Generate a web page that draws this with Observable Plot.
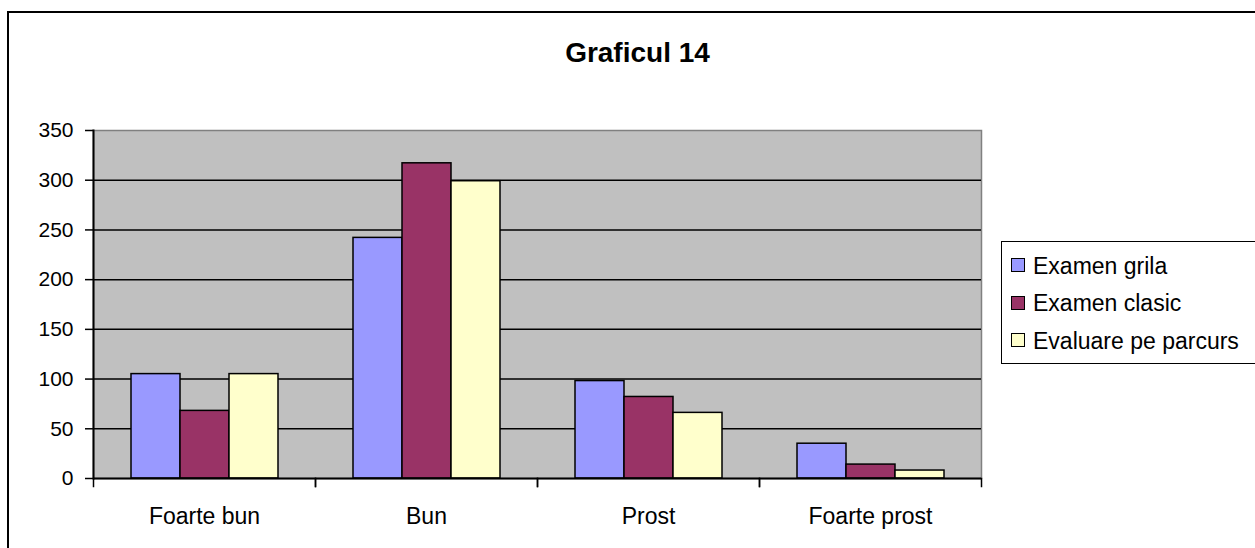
<!DOCTYPE html>
<html><head><meta charset="utf-8">
<script src="https://cdn.jsdelivr.net/npm/d3@7"></script>
<script src="https://cdn.jsdelivr.net/npm/@observablehq/plot@0.6"></script>
<style>
html,body{margin:0;padding:0;background:#fff;overflow:hidden;width:1255px;height:548px;font-family:"Liberation Sans",Arial,sans-serif;}
#wrap{position:relative;width:1255px;height:548px;overflow:hidden;}
#border{position:absolute;left:7px;top:11px;width:1400px;height:700px;border:2px solid #000;}
#title{position:absolute;left:0;width:1275px;top:39px;text-align:center;font-weight:bold;font-size:28px;line-height:1;}
#chart{position:absolute;left:0;top:0;}
#legend{position:absolute;left:1001px;top:241px;width:300px;height:121px;border:1.5px solid #000;background:#fff;}
.sw{position:absolute;width:12px;height:12px;border:1.5px solid #000;}
.lt{position:absolute;font-size:23px;line-height:1;white-space:nowrap;}
</style></head>
<body>
<div id="wrap">
  <div id="border"></div>
  <div id="chart"></div>
  <div id="title">Graficul 14</div>
  <div id="legend"></div>
</div>
<script>
const categories = ["Foarte bun", "Bun", "Prost", "Foarte prost"];
const series = ["Examen grila", "Examen clasic", "Evaluare pe parcurs"];
const examenGrila = [105, 242, 98, 35];
const examenClasic = [68, 317, 82, 14];
const evaluarePeParcurs = [105, 299, 66, 8];
const colors = ["#9999FF", "#993366", "#FFFFCC"];
const yTicks = [0, 50, 100, 150, 200, 250, 300, 350];
const title = "Graficul 14";

const seriesValues = [examenGrila, examenClasic, evaluarePeParcurs];
const data = categories.flatMap((c, i) => series.map((s, j) => ({category: c, series: s, value: seriesValues[j][i]})));

document.getElementById("title").textContent = title;

const chart = Plot.plot({
  width: 1000, height: 548,
  marginTop: 130, marginBottom: 70, marginLeft: 92, marginRight: 19,
  style: {background: "transparent", color: "#000", fontFamily: "Liberation Sans, Arial, sans-serif"},
  fx: {domain: categories, padding: 0, axis: null, label: null},
  x: {domain: series, paddingInner: 0, paddingOuter: 0.74, axis: null, label: null},
  y: {domain: [0, 350], axis: null, label: null},
  color: {domain: series, range: colors},
  marks: [
    Plot.frame({fill: "#C0C0C0", stroke: "#808080", strokeWidth: 1.5, facet: "super"}),
    Plot.ruleY(yTicks.filter(d => d > 0 && d < 350), {stroke: "#000", strokeWidth: 1.5}),
    Plot.barY(data, {fx: "category", x: "series", y: "value", fill: "series", stroke: "#000", strokeWidth: 1.5}),
    Plot.ruleY([0], {stroke: "#000", strokeWidth: 2}),
    Plot.frame({anchor: "left", stroke: "#000", strokeWidth: 2, facet: "super"}),
    Plot.frame({anchor: "left", insetTop: 348, insetBottom: -8, stroke: "#000", strokeWidth: 1.5}),
    Plot.frame({anchor: "right", insetTop: 348, insetBottom: -8, stroke: "#000", strokeWidth: 1.5}),
    Plot.axisY({ticks: yTicks, tickSize: 8, tickPadding: 12, fontSize: 21, strokeWidth: 1.5, label: null}),
    Plot.axisFx({anchor: "bottom", tickSize: 0, tickPadding: 29, fontSize: 23, label: null})
  ]
});
document.getElementById("chart").appendChild(chart);

const legend = document.getElementById("legend");
series.forEach((s, i) => {
  const sw = document.createElement("div");
  sw.className = "sw";
  sw.style.background = colors[i];
  sw.style.left = "9px";
  sw.style.top = (16 + i * 37.5) + "px";
  legend.appendChild(sw);
  const t = document.createElement("div");
  t.className = "lt";
  t.textContent = s;
  t.style.left = "31px";
  t.style.top = (12.5 + i * 37.5) + "px";
  legend.appendChild(t);
});
</script>
</body></html>
